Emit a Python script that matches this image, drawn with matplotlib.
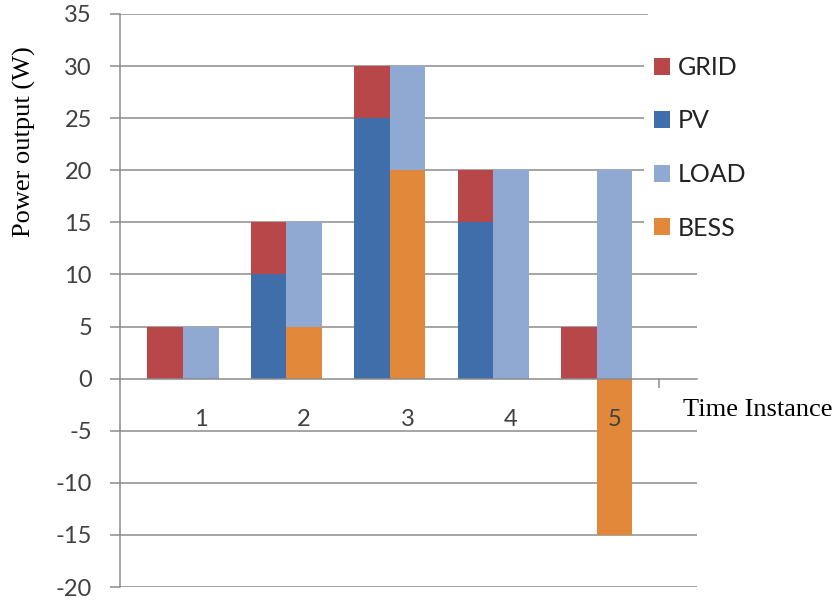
import numpy as np
import matplotlib
matplotlib.use("Agg")
import matplotlib.pyplot as plt

# Power flow per time instance (W)
instances = ["1", "2", "3", "4", "5"]
grid = [5, 5, 5, 5, 5]
pv = [0, 10, 25, 15, 0]
load = [5, 10, 10, 20, 20]
bess = [0, 5, 20, 0, -15]

colors = {"GRID": "#B8474A", "PV": "#3F6EAB", "LOAD": "#8FA9D3", "BESS": "#E2883A"}
gray = "#8C8C8C"

fig = plt.figure(figsize=(8.35, 6.03), dpi=100)
ax = fig.add_axes([120 / 835, 16 / 603, 577 / 835, 573 / 603])

x = np.arange(len(instances))
w = 0.344
bess_pos = np.clip(bess, 0, None)

# left column: PV with grid import on top; right column: battery with load on top
ax.bar(x - w / 2, pv, w, color=colors["PV"], label="PV", zorder=1)
ax.bar(x - w / 2, grid, w, bottom=pv, color=colors["GRID"], label="GRID", zorder=1)
ax.bar(x + w / 2, bess, w, color=colors["BESS"], label="BESS", zorder=1)
ax.bar(x + w / 2, load, w, bottom=bess_pos, color=colors["LOAD"], label="LOAD", zorder=1)

xmin, xmax = -0.609, 4.971
ax.set_xlim(xmin, xmax)
ax.set_ylim(-20, 35)

yticks = np.arange(-20, 40, 5)
ax.set_yticks(yticks)
for yv in yticks:
    if yv == 0:
        continue
    right = 4.497 if yv == 35 else xmax
    ax.hlines(yv, xmin, right, color=gray, linewidth=1.1, zorder=0)

for s in ["top", "right"]:
    ax.spines[s].set_visible(False)
ax.spines["left"].set_color(gray)
ax.spines["left"].set_linewidth(1.1)
ax.spines["bottom"].set_position(("data", 0))
ax.spines["bottom"].set_color(gray)
ax.spines["bottom"].set_linewidth(1.1)

ax.tick_params(axis="y", length=7.2, width=1.1, color=gray, pad=13,
               labelsize=17, labelcolor="#404040")
ax.set_yticklabels([str(v) for v in yticks], family="Lato")

ax.set_xticks(x + w / 2)
ax.set_xticklabels(instances, family="Lato")
ax.tick_params(axis="x", which="major", length=0, pad=22,
               labelsize=17, labelcolor="#404040")
ax.set_xticks([4.6], minor=True)
ax.tick_params(axis="x", which="minor", length=6.5, width=1.1, color=gray)

handles, labels = ax.get_legend_handles_labels()
order = ["GRID", "PV", "LOAD", "BESS"]
hmap = dict(zip(labels, handles))
leg = ax.legend([hmap[k] for k in order], order, loc="upper left",
                bbox_to_anchor=(644 / 835, 1 - 46 / 603), bbox_transform=fig.transFigure,
                borderaxespad=0, prop={"family": "Lato", "size": 18},
                handlelength=0.65, handleheight=0.65, handletextpad=0.32,
                labelspacing=1.22, frameon=True, facecolor="white",
                edgecolor="none", framealpha=1, fancybox=False)
for t in leg.get_texts():
    t.set_color("#222222")

fig.text(24 / 835, 1 - 142 / 603, "Power output (W)", rotation=90, ha="center",
         va="center", family="Liberation Serif", fontsize=19)
fig.text(683 / 835, 1 - 410 / 603, "Time Instance", ha="left", va="center",
         family="Liberation Serif", fontsize=19)

fig.savefig("out.png", dpi=100)
